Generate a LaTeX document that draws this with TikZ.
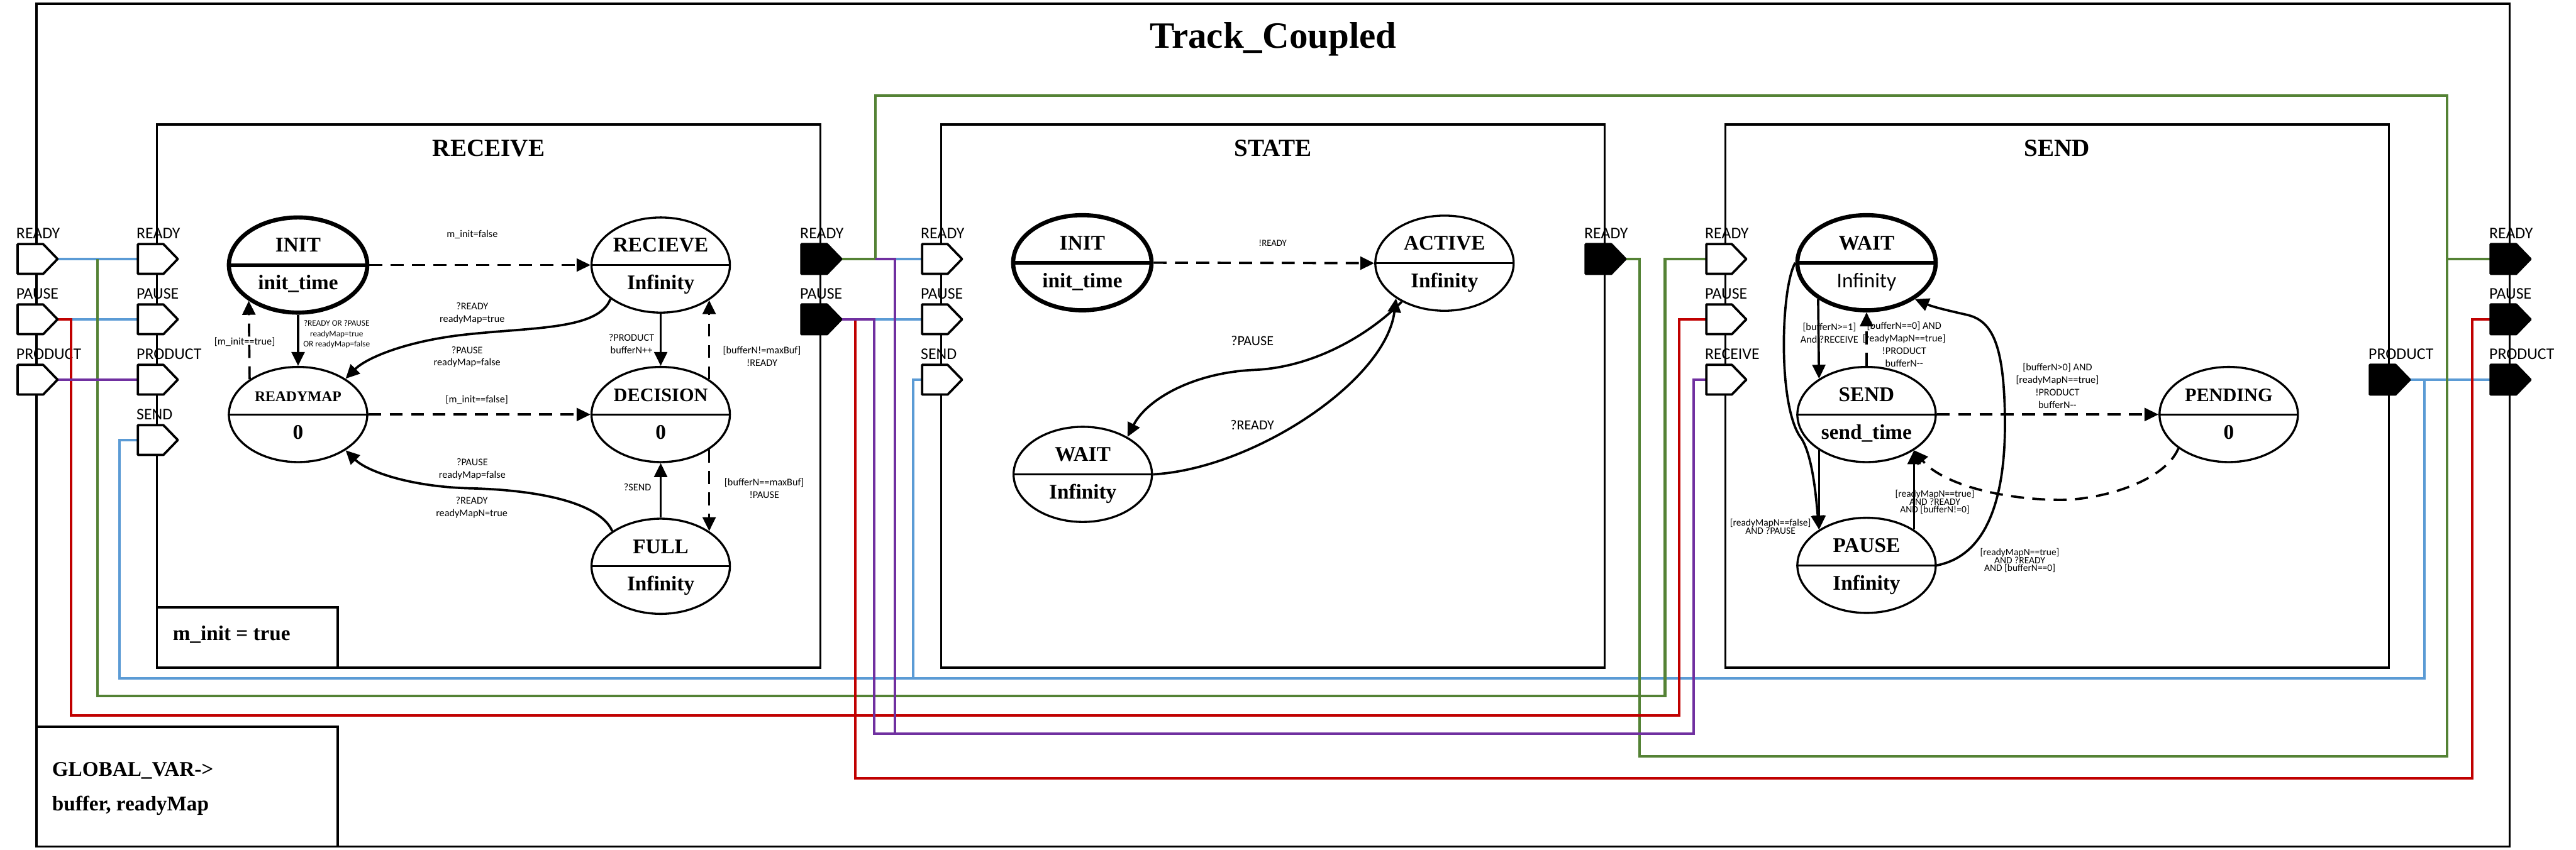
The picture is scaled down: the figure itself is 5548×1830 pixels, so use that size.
\documentclass[tikz,border=0pt]{standalone}
\usepackage{fontspec}
\setmainfont{Liberation Serif}
\newfontfamily\labfont{Carlito}
\usetikzlibrary{arrows.meta,calc,shapes.geometric}
\definecolor{cblue}{HTML}{5B9BD5}
\definecolor{cgreen}{HTML}{548235}
\definecolor{cred}{HTML}{C00000}
\definecolor{cpurple}{HTML}{7030A0}
\newcommand{\tightlines}{\lineskiplimit=-40pt\relax}
\tikzset{
 box/.style={draw, line width=5pt, inner sep=0pt, outer sep=0pt},
 boxtitle/.style={font=\bfseries\fontsize{53}{60}\selectfont, anchor=base, inner sep=0pt},
 wire/.style={line width=5.5pt},
 portbox/.style={minimum width=86pt, minimum height=64pt, inner sep=0pt, outer sep=0pt},
 portline/.style={line width=5pt, line join=round},
 portlab/.style={font=\labfont\fontsize{35}{40}\selectfont, anchor=base west, inner sep=0pt},
 stt/.style={ellipse, draw, fill=white, line width=4.5pt, minimum width=298pt, minimum height=205pt, inner sep=0pt},
 sttinit/.style={stt, line width=9pt},
 divn/.style={line width=4.5pt},
 divt/.style={line width=8pt},
 sttxt/.style={font=\bfseries\fontsize{45}{50}\selectfont, anchor=base, inner sep=0pt},
 trans/.style={line width=5pt, -{Triangle[length=30pt,width=28pt]}},
 dtrans/.style={trans, dash pattern=on 28pt off 18pt},
 lbl/.style={font=\labfont\fontsize{22}{27}\selectfont, align=center, inner sep=0pt},
 lbls/.style={font=\labfont\fontsize{18}{22}\selectfont, align=center, inner sep=0pt},
 lblt/.style={font=\labfont\fontsize{21}{17}\selectfont\tightlines, align=center, inner sep=0pt},
 lblb/.style={font=\labfont\fontsize{30}{34}\selectfont, align=center, inner sep=0pt},
 bigtxt/.style={font=\bfseries\fontsize{45}{50}\selectfont, anchor=base west, inner sep=0pt},
}
\newcommand{\portdef}[4]{%
  \node[portbox] (#1) at (#2,#3) {};
  \node[portlab] at ([shift={(-3pt,12pt)}]#1.north west) {#4};}
\newcommand{\portdraw}[2]{%
  \draw[portline, fill=#2] (#1.north west) -- ([xshift=55pt]#1.north west) -- (#1.east)
    -- ([xshift=55pt]#1.south west) -- (#1.south west) -- cycle;}
\newcommand{\stnode}[7]{%
  \node[#4] (#1) at (#2,#3) {};
  \draw[#5] (#1.west) -- (#1.east);
  \node[sttxt] at ($(#1.center)+(0,-28)$) {#6};
  \node[sttxt] at ($(#1.center)+(0,53)$) {#7};}
\begin{document}
\begin{tikzpicture}[x=1pt,y=-1pt]
\useasboundingbox (0,0) rectangle (5548,1830);
\fill[white] (0,0) rectangle (5548,1830);

% ---- ports (invisible anchors + labels)
\portdef{oIR}{81}{558}{READY}
\portdef{oIP}{81}{688}{PAUSE}
\portdef{oIPr}{81}{818}{PRODUCT}
\portdef{rInR}{340}{558}{READY}
\portdef{rInP}{340}{688}{PAUSE}
\portdef{rInPr}{340}{818}{PRODUCT}
\portdef{rInS}{340}{948}{SEND}
\portdef{rOutR}{1769}{558}{READY}
\portdef{rOutP}{1769}{688}{PAUSE}
\portdef{sInR}{2029}{558}{READY}
\portdef{sInP}{2029}{688}{PAUSE}
\portdef{sInS}{2029}{818}{SEND}
\portdef{sOutR}{3458}{558}{READY}
\portdef{dInR}{3718}{558}{READY}
\portdef{dInP}{3718}{688}{PAUSE}
\portdef{dInRc}{3718}{818}{RECEIVE}
\portdef{dOutPr}{5147}{818}{PRODUCT}
\portdef{oOR}{5407}{558}{READY}
\portdef{oOP}{5407}{688}{PAUSE}
\portdef{oOPr}{5407}{818}{PRODUCT}

% ---- frames
\node[box, minimum width=5326pt, minimum height=1816pt] (frame) at (2742,916) {};
\node[box, minimum width=1429pt, minimum height=1170pt] (recv) at (1052.5,853) {};
\node[box, minimum width=1429pt, minimum height=1170pt] (state) at (2741.5,853) {};
\node[box, minimum width=1429pt, minimum height=1170pt] (send) at (4430.5,853) {};
\node[box, minimum width=389pt, minimum height=130pt] (minit) at (532.5,1373) {};
\node[box, minimum width=648pt, minimum height=258pt] (glob) at (403,1695) {};
\node[font=\bfseries\fontsize{80}{90}\selectfont, anchor=base, inner sep=0pt] (title) at ([yshift=-96pt]frame.north) {Track\_Coupled};
\node[boxtitle] at ([yshift=-69pt]recv.north) {RECEIVE};
\node[boxtitle] at ([yshift=-69pt]state.north) {STATE};
\node[boxtitle] at ([yshift=-69pt]send.north) {SEND};
\node[bigtxt] at ([shift={(34pt,-72pt)}]minit.north west) {m\_init = true};
\node[bigtxt] at ([shift={(33pt,-106pt)}]glob.north west) {GLOBAL\_VAR->};
\node[bigtxt] at ([shift={(33pt,-180pt)}]glob.north west) {buffer, readyMap};

% ---- wires
\coordinate (bL) at (257,1462);
\coordinate (bR) at (5222,1462);
\coordinate (bM) at (1967,1462);
\coordinate (jRP) at (153,688);
\coordinate (jP2) at (1883,688);
\coordinate (jP3) at (1927,558);
\coordinate (jG) at (1885,558);
\coordinate (gJ) at (210,558);
\coordinate (gT1) at (1885,206);
\coordinate (gT2) at (5270,206);
\coordinate (gB1) at (5270,1630);
\coordinate (gB2) at (3531,1630);
\coordinate (gL1) at (210,1499);
\coordinate (gL2) at (3586,1499);
\coordinate (rL1) at (153,1542);
\coordinate (rL2) at (3617,1542);
\coordinate (jR2) at (1842,688);
\coordinate (rB1) at (1842,1677);
\coordinate (rB2) at (5325,1677);
\coordinate (pB1) at (1883,1581);
\coordinate (pB2) at (3647,1581);
\coordinate (pB3) at (1927,1581);

\draw[wire,cblue] (oIR.east) -- (rInR.west);
\draw[wire,cblue] (jRP) -- (rInP.west);
\draw[wire,cblue] (rInS.west) -| (bL) -- (bR) |- (dOutPr.east);
\draw[wire,cblue] (dOutPr.east) -- (oOPr.west);
\draw[wire,cblue] (bM) |- (sInS.west);
\draw[wire,cblue] (jP3) -- (sInR.west);
\draw[wire,cblue] (jP2) -- (sInP.west);

\draw[wire,cgreen] (gJ) -- (gL1) -- (gL2) |- (dInR.west);
\draw[wire,cgreen] (rOutR.east) -| (gT1) -- (gT2) -- (gB1) -- (gB2) |- (sOutR.east);
\draw[wire,cgreen] (gT2 |- oOR.west) -- (oOR.west);

\draw[wire,cred] (oIP.east) -| (rL1) -- (rL2) |- (dInP.west);
\draw[wire,cred] (jR2) -- (rB1) -- (rB2) |- (oOP.west);

\draw[wire,cpurple] (oIPr.east) -- (rInPr.west);
\draw[wire,cpurple] (rOutP.east) -| (pB1) -- (pB2) |- (dInRc.west);
\draw[wire,cpurple] (jG) -- (jP3) -- (pB3);

% ---- port shapes
\foreach \p in {oIR,oIP,oIPr,rInR,rInP,rInPr,rInS,sInR,sInP,sInS,dInR,dInP,dInRc} {\portdraw{\p}{white}}
\foreach \p in {rOutR,rOutP,sOutR,dOutPr,oOR,oOP,oOPr} {\portdraw{\p}{black}}

% ---- states
\stnode{rInit}{642}{571}{sttinit}{divt}{INIT}{init\_time}
\stnode{rRec}{1423}{571}{stt}{divn}{RECIEVE}{Infinity}
\stnode{rMap}{642}{893}{stt}{divn}{\fontsize{32}{36}\selectfont READYMAP}{0}
\stnode{rDec}{1423}{893}{stt}{divn}{\fontsize{41}{46}\selectfont DECISION}{0}
\stnode{rFull}{1423}{1220}{stt}{divn}{FULL}{Infinity}
\stnode{sInit}{2331}{566}{sttinit}{divt}{INIT}{init\_time}
\stnode{sAct}{3111}{567}{stt}{divn}{ACTIVE}{Infinity}
\stnode{sWait}{2332}{1022}{stt}{divn}{WAIT}{Infinity}
\stnode{dWait}{4020}{566}{sttinit}{divt}{WAIT}{\labfont\mdseries Infinity}
\stnode{dSend}{4020}{893}{stt}{divn}{SEND}{send\_time}
\stnode{dPause}{4020}{1218}{stt}{divn}{PAUSE}{Infinity}
\stnode{dPend}{4800}{893}{stt}{divn}{\fontsize{41}{46}\selectfont PENDING}{0}

% ---- RECEIVE transitions
\draw[dtrans] (rInit.east) -- (rRec.west);
\draw[trans] (rInit.south) -- (rMap.north);
\draw[dtrans] (rMap.144) -- (rInit.216);
\draw[dtrans] (rMap.east) -- (rDec.west);
\draw[trans] (rRec.south) -- (rDec.north);
\draw[dtrans] (rDec.36) -- (rRec.324);
\draw[dtrans] (rDec.324) -- (rFull.36);
\draw[trans] (rFull.north) -- (rDec.south);
\draw[trans] (rRec.214) .. controls (1290,710) and (1150,705) .. (1010,720) .. controls (880,733) and (790,770) .. (rMap.37);
\draw[trans] (rFull.144) .. controls (1290,1080) and (1150,1055) .. (1010,1052) .. controls (880,1048) and (790,1015) .. (rMap.323);

\node[lbl] at (1017,505) {m\_init=false};
\node[lbls] at (725,720) {?READY OR ?PAUSE\\readyMap=true\\OR readyMap=false};
\node[lbl] at (527,737) {[m\_init==true]};
\node[lbl] at (1017,675) {?READY\\readyMap=true};
\node[lbl] at (1006,769) {?PAUSE\\readyMap=false};
\node[lbl] at (1027,861) {[m\_init==false]};
\node[lbl] at (1360,741) {?PRODUCT\\bufferN++};
\node[lbl] at (1641,768) {[bufferN!=maxBuf]\\!READY};
\node[lbl] at (1646,1052) {[bufferN==maxBuf]\\!PAUSE};
\node[lbl] at (1373,1050) {?SEND};
\node[lbl] at (1017,1011) {?PAUSE\\readyMap=false};
\node[lbl] at (1016,1093) {?READY\\readyMapN=true};

% ---- STATE transitions
\draw[dtrans] (sInit.east) -- (sAct.west);
\draw[trans] (sAct.222) .. controls (2950,720) and (2830,792) .. (2700,797) .. controls (2570,803) and (2470,860) .. (sWait.40);
\draw[trans] (sWait.east) .. controls (2700,1010) and (2985,820) .. (sAct.216);
\node[lbl, font=\labfont\fontsize{20}{24}\selectfont] at (2741,524) {!READY};
\node[lblb] at (2697,734) {?PAUSE};
\node[lblb] at (2697,915) {?READY};

% ---- SEND transitions
\draw[trans] (dWait.217) -- (dSend.143);
\draw[dtrans] (dSend.north) -- (dWait.south);
\draw[dtrans] (dSend.east) -- (dPend.west);
\draw[dtrans] (dPend.214) .. controls (4660,1040) and (4520,1078) .. (4433,1077) .. controls (4300,1075) and (4180,1040) .. (dSend.323);
\draw[trans] (dSend.217) -- (dPause.143);
\draw[trans] (dPause.37) -- (dSend.323);
\draw[trans] (dWait.west) .. controls (3835,620) and (3828,880) .. (3880,945) .. controls (3905,985) and (3912,1080) .. (dPause.143);
\draw[trans] (dPause.east) .. controls (4290,1195) and (4320,1050) .. (4318,900) .. controls (4316,740) and (4290,690) .. (4235,678) .. controls (4200,670) and (4165,662) .. (dWait.323);

\node[lbl] at (3940,718) {[bufferN>=1]\\And ?RECEIVE};
\node[lbl] at (4101,742) {[bufferN==0] AND\\{}[readyMapN==true]\\!PRODUCT\\bufferN-{}-};
\node[lbl] at (4431,831) {[bufferN>0] AND\\{}[readyMapN==true]\\!PRODUCT\\bufferN-{}-};
\node[lblt] at (4167,1082) {[readyMapN==true]\\AND ?READY\\AND [bufferN!=0]};
\node[lblt] at (3813,1134) {[readyMapN==false]\\AND ?PAUSE};
\node[lblt] at (4350,1208) {[readyMapN==true]\\AND ?READY\\AND [bufferN==0]};
\end{tikzpicture}
\end{document}
